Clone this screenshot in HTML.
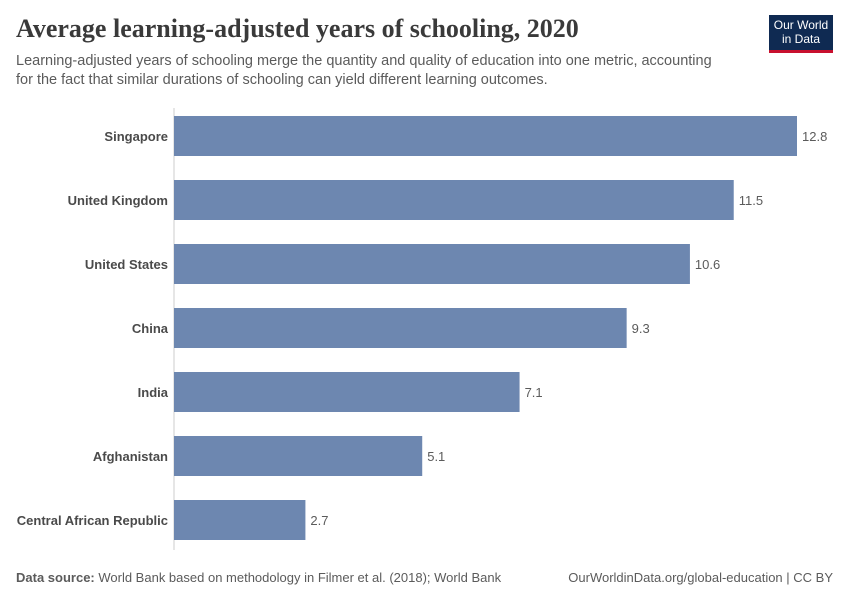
<!DOCTYPE html>
<html><head><meta charset="utf-8"><style>
body{margin:0;background:#fff;font-family:"Liberation Sans",sans-serif;}
#wrap{position:relative;width:850px;height:600px;overflow:hidden;}
.t{position:absolute;white-space:nowrap;}
</style></head><body>
<div id="wrap">
<div class="t" style="left:16px;top:14px;font-family:'Liberation Serif',serif;font-size:26px;font-weight:bold;color:#3a3a3a;">Average learning-adjusted years of schooling, 2020</div>
<div class="t" style="left:16px;top:52px;font-size:14.5px;color:#5b5b5b;line-height:19px;">Learning-adjusted years of schooling merge the quantity and quality of education into one metric, accounting<br>for the fact that similar durations of schooling can yield different learning outcomes.</div>
<div style="position:absolute;left:769px;top:15px;width:64px;background:#0f2a52;border-bottom:3px solid #c8102e;color:#fff;font-size:12px;line-height:14px;text-align:center;padding-top:3px;height:32px;">Our World<br>in Data</div>
<svg id="plot" width="850" height="600" style="position:absolute;left:0;top:0"></svg>
<div class="t" style="left:16px;top:570px;font-size:13px;color:#5b5b5b;"><b>Data source:</b> World Bank based on methodology in Filmer et al. (2018); World Bank</div>
<div class="t" style="right:17px;top:570px;font-size:13px;color:#5b5b5b;">OurWorldinData.org/global-education | CC BY</div>
</div>
<script>
const categories=["Singapore","United Kingdom","United States","China","India","Afghanistan","Central African Republic"];
const values=[12.8,11.5,10.6,9.3,7.1,5.1,2.7];
const labels=["12.8","11.5","10.6","9.3","7.1","5.1","2.7"];
const NS="http://www.w3.org/2000/svg";
const svg=document.getElementById('plot');
const x0=174,pxPer=(797-174)/12.8;
function xs(v){return x0+v*pxPer;}
function ys(i){return 116+i*64;}
const ax=document.createElementNS(NS,'line');
ax.setAttribute('x1',x0);ax.setAttribute('x2',x0);ax.setAttribute('y1',108);ax.setAttribute('y2',550);
ax.setAttribute('stroke','#ccc');


svg.appendChild(ax);
categories.forEach((c,i)=>{
 const r=document.createElementNS(NS,'rect');
 r.setAttribute('x',x0);r.setAttribute('y',ys(i));r.setAttribute('width',xs(values[i])-x0);r.setAttribute('height',40);r.setAttribute('fill','#6d87b0');
 
 
 svg.appendChild(r);
 const t=document.createElementNS(NS,'text');
 t.setAttribute('x',168);t.setAttribute('y',ys(i)+25);t.setAttribute('text-anchor','end');
 t.setAttribute('font-size','13');t.setAttribute('font-weight','bold');t.setAttribute('fill','#4a4a4a');
 t.setAttribute('font-family','Liberation Sans, sans-serif');
 t.textContent=c;
 
 
 svg.appendChild(t);
 const v=document.createElementNS(NS,'text');
 v.setAttribute('x',xs(values[i])+5);v.setAttribute('y',ys(i)+25);
 v.setAttribute('font-size','13');v.setAttribute('fill','#5b5b5b');
 v.setAttribute('font-family','Liberation Sans, sans-serif');
 v.textContent=labels[i];
 
 
 svg.appendChild(v);
});
</script>
</body></html>
